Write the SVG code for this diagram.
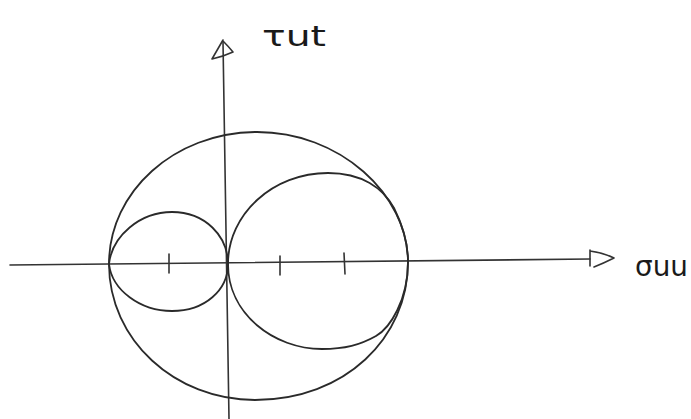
<svg xmlns="http://www.w3.org/2000/svg" width="691" height="419" viewBox="0 0 691 419">
<style>
.ln{fill:none;stroke:#2a2a2a;stroke-width:1.8;stroke-linecap:round;stroke-linejoin:round}
.ax{fill:none;stroke:#333;stroke-width:1.6;stroke-linecap:round;stroke-linejoin:round}
.lbl{font-family:"DejaVu Sans","Liberation Sans",sans-serif;font-size:28px;fill:#1a1a1a}
</style>
<rect width="691" height="419" fill="#fff"/>
<g id="axes">
<path class="ax" d="M10,265 L590,259"/>
<path class="ax" d="M590,250 L590,266 M590,251 Q604,253 614,258 Q604,263 594,267"/>
<path class="ax" d="M223,42 L229,419"/>
<path class="ax" d="M223,40 L212,59 Q222,57 233,52 Q228,46 223,41"/>
<path class="ax" d="M169,254 L169,273 M280,256 L280,275 M344,253 L345,274"/>
</g>
<g id="circles">
<path id="big" class="ln" d="M109,264 C109,191 175,133 255,132 C340,131 408,195 408,262 C408,338 345,400 255,400 C175,400 109,340 109,264 Z"/>
<path id="right" class="ln" d="M228,264 C228,214 273,173 328,173 C362,173 383,188 394,208 C404,228 408,245 408,262 C408,300 390,328 376,336 C360,345 345,349 322,349 C274,349 228,314 228,264 Z"/>
<path id="left" class="ln" d="M109,264 C112,236 140,212 172,212 C205,212 228,236 228,264 C228,290 205,311 172,311 C140,311 112,290 109,264 Z"/>
</g>
<g id="labels">
<text class="lbl" x="262" y="46" textLength="64" lengthAdjust="spacingAndGlyphs">τut</text>
<text class="lbl" x="635" y="276" textLength="53" lengthAdjust="spacingAndGlyphs">σuu</text>
</g>
</svg>
